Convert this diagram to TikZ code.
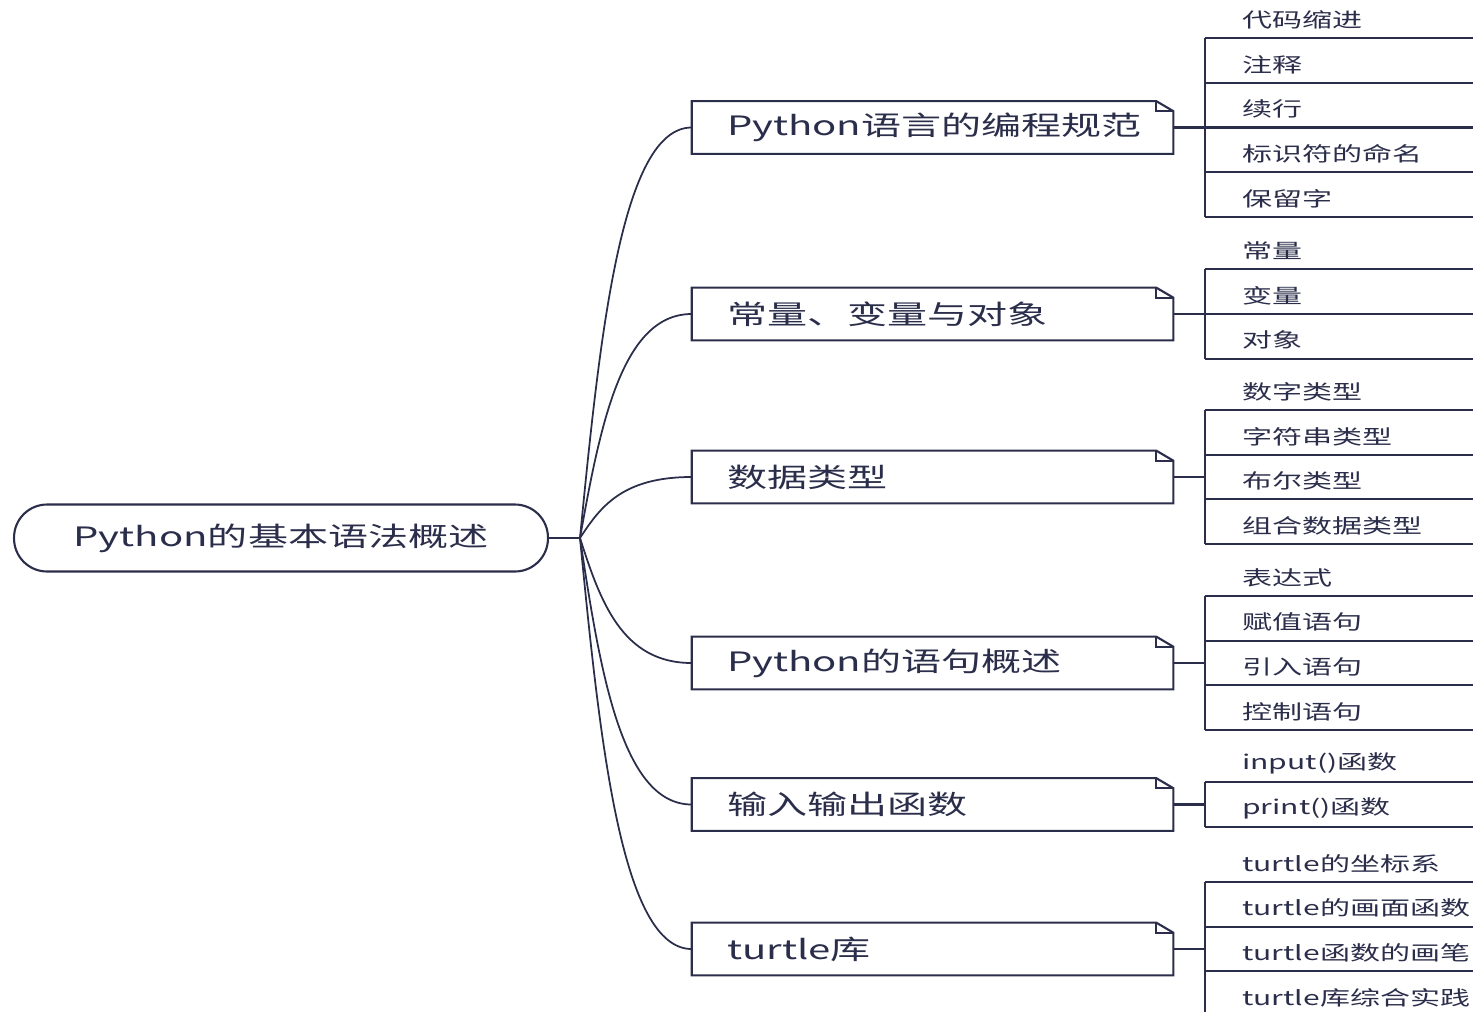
\documentclass[tikz,border=0pt]{standalone}
\usepackage{fontspec}
\setmainfont{Noto Sans CJK SC}
\usetikzlibrary{calc}
\definecolor{ink}{HTML}{2B2E4A}
\newcommand{\wide}[1]{\scalebox{1.5}[1]{#1}}

\begin{document}
\begin{tikzpicture}[x=0.02cm,y=-0.02cm,
  every node/.style={text=ink},
  line/.style={draw=ink,line width=1.2pt},
  link/.style={draw=ink,line width=1pt},
  root/.style={draw=ink,line width=1.2pt,rounded corners=0.66cm,minimum width=10.68cm,
    minimum height=1.34cm,font=\fontsize{15.2}{18}\selectfont},
  topic/.style={minimum width=9.62cm,minimum height=1.04cm,text width=8.22cm,
    inner xsep=0.7cm,align=left,font=\fontsize{15.2}{18}\selectfont},
  leaf/.style={anchor=south west,minimum height=0.72cm,text width=5.36cm,inner xsep=0pt,
    align=left,execute at begin node=\hspace*{0.74cm},font=\fontsize{11.4}{14}\selectfont}]
  \useasboundingbox (0,0) rectangle (1473,1011);

  \node[root] (root) at (281,538) {\wide{Python的基本语法概述}};
  \coordinate (j) at ([xshift=0.62cm]root.east);
  \draw[line] (root.east) -- (j);

  \foreach \g/\y/\n/\name/\list in {
      1/127.5/5/Python语言的编程规范/{代码缩进,注释,续行,标识符的命名,保留字},
      2/314/3/常量、变量与对象/{常量,变量,对象},
      3/477/4/数据类型/{数字类型,字符串类型,布尔类型,组合数据类型},
      4/663/4/Python的语句概述/{表达式,赋值语句,引入语句,控制语句},
      5/804.5/2/输入输出函数/{input()函数,print()函数},
      6/949/4/turtle库/{turtle的坐标系,turtle的画面函数,turtle函数的画笔,turtle库综合实践}} {
    \node[topic] (t\g) at (932.5,\y) {\wide{\name}};
    % box with folded corner
    \draw[line] (t\g.north west) -- ([xshift=-0.34cm]t\g.north east)
      -- ([yshift=-0.2cm]t\g.north east) -- (t\g.south east) -- (t\g.south west) -- cycle;
    \draw[line] ([xshift=-0.34cm]t\g.north east) |- ([yshift=-0.2cm]t\g.north east);
    \draw[link] (j) .. controls ($(j)!0.5!(t\g.west -| j)+(20,0)$) and ($(t\g.west)+(-70,0)$) .. (t\g.west);
    % leaves
    \foreach \t [count=\i] in \list {
      \node[leaf] (l\g-\i) at (1205,{\y+(\i-(\n+1)/2)*44.6}) {\wide{\t}};
      \draw[line] (l\g-\i.south west) -- (l\g-\i.south east);
    }
    \draw[line,line width=1.6pt] (l\g-1.south west) -- (l\g-\n.south west);
    \draw[line] (t\g.east) -- (t\g.east -| l\g-1.south west);
  }
\end{tikzpicture}
\end{document}
